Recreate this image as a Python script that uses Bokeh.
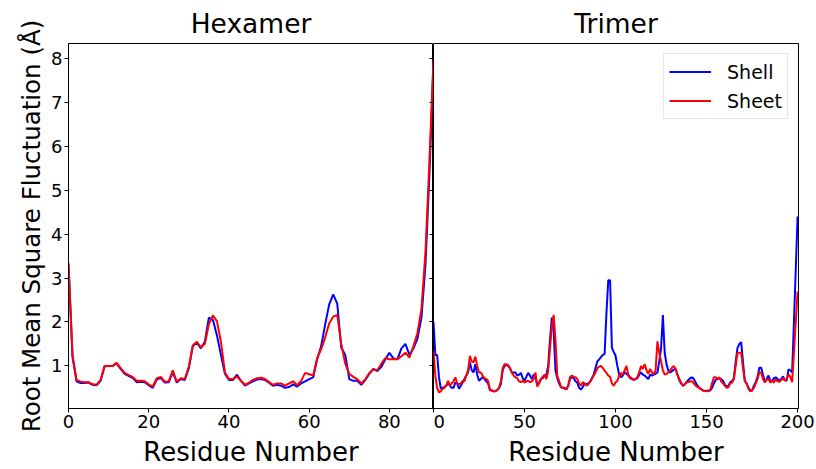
from bokeh.plotting import figure
from bokeh.models import Range1d, FixedTicker, LinearAxis
from bokeh.layouts import row
from bokeh.embed import file_html
from bokeh.resources import INLINE

# ---------------- data ----------------
hex_residue = list(range(92))
hex_shell = [3.3, 1.2, 0.65, 0.61, 0.61, 0.62, 0.57, 0.56, 0.66, 0.99,
             1.0, 1.0, 1.05, 0.93, 0.82, 0.77, 0.73, 0.63, 0.64, 0.63,
             0.56, 0.5, 0.69, 0.73, 0.62, 0.63, 0.86, 0.62, 0.7, 0.68,
             0.95, 1.45, 1.53, 1.4, 1.55, 2.1, 2.05, 1.7, 1.25, 0.82,
             0.68, 0.68, 0.8, 0.66, 0.55, 0.6, 0.65, 0.69, 0.7, 0.68,
             0.62, 0.55, 0.57, 0.55, 0.5, 0.52, 0.58, 0.53, 0.6, 0.65,
             0.7, 0.74, 1.15, 1.45, 1.95, 2.4, 2.63, 2.42, 1.42, 1.25,
             0.7, 0.66, 0.66, 0.57, 0.68, 0.82, 0.93, 0.88, 0.98, 1.15,
             1.3, 1.17, 1.15, 1.4, 1.5, 1.25, 1.4, 1.62, 2.1, 3.3,
             5.4, 7.9]
hex_sheet = [3.35, 1.25, 0.68, 0.64, 0.63, 0.63, 0.58, 0.57, 0.68, 1.0,
             1.0, 1.0, 1.07, 0.95, 0.84, 0.79, 0.75, 0.66, 0.66, 0.65,
             0.58, 0.53, 0.72, 0.75, 0.64, 0.65, 0.9, 0.64, 0.72, 0.7,
             0.98, 1.47, 1.55, 1.42, 1.5, 1.95, 2.15, 2.02, 1.55, 0.85,
             0.7, 0.7, 0.76, 0.66, 0.57, 0.62, 0.68, 0.72, 0.73, 0.7,
             0.63, 0.57, 0.6, 0.6, 0.55, 0.6, 0.65, 0.56, 0.66, 0.84,
             0.81, 0.78, 1.18, 1.38, 1.65, 1.97, 2.12, 2.16, 1.5, 1.05,
             0.82, 0.75, 0.7, 0.6, 0.7, 0.84, 0.92, 0.9, 1.05, 1.18,
             1.15, 1.15, 1.15, 1.22, 1.3, 1.19, 1.45, 1.75, 2.3, 3.6,
             5.7, 8.0]

tri_residue = list(range(201))
tri_shell = [2.0, 1.25, 1.25, 0.75, 0.48, 0.5, 0.52, 0.55, 0.62, 0.55,
             0.5, 0.5, 0.62, 0.6, 0.48, 0.55, 0.62, 0.7, 0.78, 0.85,
             1.08, 0.9, 0.85, 1.04, 0.8, 0.66, 0.7, 0.75, 0.7, 0.65,
             0.6, 0.45, 0.44, 0.42, 0.43, 0.45, 0.5, 0.58, 0.9, 1.0,
             1.02, 1.0, 0.95, 0.85, 0.85, 0.85, 0.78, 0.8, 0.84, 0.72,
             0.66, 0.75, 0.84, 0.78, 0.7, 0.8, 0.75, 0.56, 0.62, 0.7,
             0.72, 0.78, 0.8, 1.0, 1.6, 2.1, 1.8, 0.9, 0.72, 0.6,
             0.52, 0.5, 0.5, 0.46, 0.55, 0.7, 0.75, 0.72, 0.65, 0.62,
             0.5, 0.46, 0.52, 0.6, 0.58, 0.6, 0.64, 0.72, 0.8, 0.95,
             1.1, 1.15, 1.2, 1.25, 1.27, 2.2, 2.95, 2.95, 1.41, 1.32,
             1.23, 1.0, 0.8, 0.74, 0.78, 0.85, 0.82, 0.78, 0.72, 0.7,
             0.68, 0.7, 0.72, 0.8, 0.85, 0.8, 0.78, 0.74, 0.7, 0.8,
             0.78, 0.8, 0.82, 0.85, 1.1, 1.4, 2.16, 1.3, 1.04, 0.89,
             0.85, 0.88, 0.92, 0.93, 0.8, 0.68, 0.6, 0.55, 0.58, 0.63,
             0.68, 0.72, 0.74, 0.7, 0.62, 0.55, 0.5, 0.47, 0.44, 0.43,
             0.43, 0.44, 0.44, 0.5, 0.6, 0.68, 0.7, 0.72, 0.7, 0.66,
             0.58, 0.52, 0.55, 0.63, 0.65, 0.72, 1.1, 1.41, 1.5, 1.54,
             1.1, 0.66, 0.6, 0.5, 0.44, 0.44, 0.55, 0.63, 0.75, 0.96,
             0.96, 0.8, 0.63, 0.7, 0.78, 0.66, 0.66, 0.72, 0.74, 0.7,
             0.66, 0.7, 0.76, 0.68, 0.66, 0.92, 0.9, 0.85, 2.0, 3.2,
             4.4]
tri_sheet = [1.35, 0.78, 0.5, 0.4, 0.42, 0.48, 0.5, 0.55, 0.66, 0.55,
             0.6, 0.65, 0.74, 0.6, 0.58, 0.6, 0.66, 0.65, 0.78, 0.9,
             1.23, 1.1, 1.08, 1.21, 1.0, 0.85, 0.85, 0.78, 0.72, 0.7,
             0.66, 0.45, 0.44, 0.42, 0.42, 0.45, 0.5, 0.65, 0.95, 1.04,
             1.04, 1.02, 0.95, 0.85, 0.78, 0.74, 0.72, 0.65, 0.63, 0.66,
             0.62, 0.65, 0.66, 0.63, 0.65, 0.7, 0.85, 0.53, 0.6, 0.7,
             0.75, 0.8, 0.7, 0.89, 1.4, 1.9, 2.16, 1.6, 0.77, 0.66,
             0.52, 0.5, 0.48, 0.48, 0.55, 0.74, 0.78, 0.75, 0.74, 0.7,
             0.6, 0.55, 0.63, 0.6, 0.55, 0.58, 0.64, 0.7, 0.78, 0.85,
             0.95, 0.98, 1.0, 0.95, 0.89, 0.84, 0.78, 0.75, 0.6, 0.55,
             0.62, 0.66, 0.78, 0.84, 0.8, 0.9, 1.0, 0.8, 0.74, 0.72,
             0.68, 0.7, 0.75, 0.85, 1.0, 0.93, 1.04, 0.9, 0.82, 0.93,
             0.85, 0.81, 0.9, 1.56, 1.3, 1.1, 0.9, 0.8, 0.82, 0.85,
             0.9, 0.96, 1.0, 0.93, 0.8, 0.7, 0.62, 0.55, 0.58, 0.63,
             0.63, 0.65, 0.65, 0.6, 0.55, 0.52, 0.5, 0.47, 0.44, 0.43,
             0.42, 0.43, 0.45, 0.6, 0.74, 0.74, 0.7, 0.74, 0.65, 0.6,
             0.55, 0.5, 0.52, 0.6, 0.62, 0.7, 1.0, 1.3, 1.3, 1.3,
             0.95, 0.66, 0.6, 0.48, 0.42, 0.44, 0.5, 0.6, 0.7, 0.85,
             0.85, 0.7, 0.63, 0.68, 0.7, 0.62, 0.66, 0.62, 0.7, 0.65,
             0.64, 0.68, 0.72, 0.66, 0.7, 0.81, 0.75, 0.63, 1.3, 2.0,
             2.69]

y_ticks = [1, 2, 3, 4, 5, 6, 7, 8]
hex_x_ticks = [0, 20, 40, 60, 80]
tri_x_ticks = [0, 50, 100, 150, 200]

FONT = "DejaVu Sans"
BLUE = "#0000ff"
RED = "#ff0000"

y_range = Range1d(0.03, 8.34)


def style_axis(ax):
    ax.axis_line_color = "black"
    ax.major_tick_line_color = "black"
    ax.minor_tick_line_color = None
    ax.major_tick_out = 4
    ax.major_tick_in = 0
    ax.major_label_text_font = FONT
    ax.major_label_text_font_size = "18px"
    ax.major_label_text_color = "black"
    ax.major_label_standoff = 2
    ax.axis_label_text_font = FONT
    ax.axis_label_text_font_style = "normal"
    ax.axis_label_text_color = "black"
    ax.axis_label_standoff = 2


def style_fig(p, title):
    p.title.text = title
    p.title.align = "center"
    p.title.text_font = FONT
    p.title.text_font_size = "26.5px"
    p.title.text_font_style = "normal"
    p.title.text_color = "black"
    p.title.standoff = 9
    p.xgrid.visible = False
    p.ygrid.visible = False
    p.outline_line_color = "black"
    p.outline_line_width = 1
    p.background_fill_color = "white"
    p.border_fill_color = "white"


# ---------------- left panel: Hexamer ----------------
p1 = figure(width=433, height=469, x_range=Range1d(0, 91), y_range=y_range,
            output_backend="svg", toolbar_location=None,
            min_border_left=68, min_border_right=0,
            min_border_top=43, min_border_bottom=56)
style_fig(p1, "Hexamer")
p1.line(hex_residue, hex_shell, line_color=BLUE, line_width=2)
p1.line(hex_residue, hex_sheet, line_color=RED, line_width=2)
p1.xaxis.ticker = FixedTicker(ticks=hex_x_ticks)
p1.yaxis.ticker = FixedTicker(ticks=y_ticks)
p1.xaxis.axis_label = "Residue Number"
p1.yaxis.axis_label = "Root Mean Square Fluctuation (Å)"
for ax in p1.xaxis + p1.yaxis:
    style_axis(ax)
p1.xaxis.axis_label_text_font_size = "26px"
p1.xaxis.axis_label_standoff = 6
p1.yaxis.axis_label_text_font_size = "24.5px"

# inward ticks on the shared spine (tick marks only, no labels)
rax = LinearAxis(ticker=FixedTicker(ticks=y_ticks))
rax.axis_line_color = None
rax.major_tick_line_color = "black"
rax.minor_tick_line_color = None
rax.major_tick_in = 4
rax.major_tick_out = 0
rax.major_label_text_font_size = "0px"
rax.major_label_text_alpha = 0
rax.major_label_standoff = 0
rax.major_label_overrides = {t: "" for t in y_ticks}
p1.add_layout(rax, "right")

# ---------------- right panel: Trimer ----------------
p2 = figure(width=383, height=469, x_range=Range1d(0, 200.5), y_range=y_range,
            output_backend="svg", toolbar_location=None,
            min_border_left=0, min_border_right=18,
            min_border_top=43, min_border_bottom=56)
style_fig(p2, "Trimer")
p2.line(tri_residue, tri_shell, line_color=BLUE, line_width=2, legend_label="Shell")
p2.line(tri_residue, tri_sheet, line_color=RED, line_width=2, legend_label="Sheet")
p2.yaxis.visible = False
p2.xaxis.ticker = FixedTicker(ticks=tri_x_ticks)
p2.xaxis.axis_label = "Residue Number"
for ax in p2.xaxis:
    style_axis(ax)
p2.xaxis.axis_label_text_font_size = "26px"
p2.xaxis.axis_label_standoff = 6

lg = p2.legend[0]
lg.location = "top_right"
lg.margin = 10
lg.padding = 5
lg.spacing = 4
lg.glyph_width = 42
lg.glyph_height = 25
lg.label_height = 25
lg.label_standoff = 16
lg.label_text_font = FONT
lg.label_text_font_size = "19px"
lg.label_text_color = "black"
lg.border_line_color = "#cccccc"
lg.border_line_width = 1
lg.background_fill_color = "white"
lg.background_fill_alpha = 0.8

layout = row(p1, p2, spacing=0)

open("out.html", "w").write(file_html(layout, INLINE))
